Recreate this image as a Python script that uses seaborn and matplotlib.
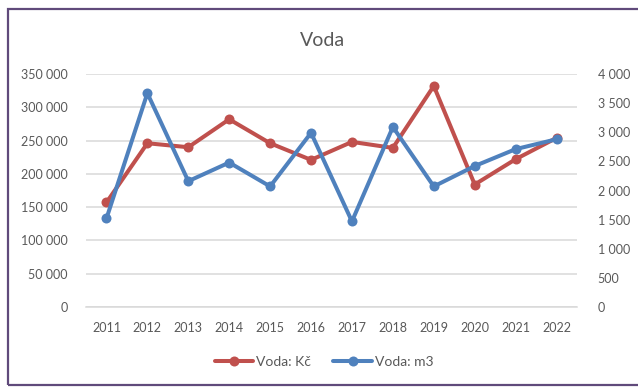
import matplotlib
matplotlib.use("Agg")
import matplotlib.pyplot as plt
import matplotlib.ticker as mticker
from matplotlib.patches import Rectangle
from matplotlib.lines import Line2D
import seaborn as sns
import pandas as pd

years = [2011, 2012, 2013, 2014, 2015, 2016, 2017, 2018, 2019, 2020, 2021, 2022]
cost_czk = [157000, 246000, 240000, 282000, 246000, 221000, 248000, 239000, 332000, 184000, 222000, 254000]
volume_m3 = [1520, 3670, 2160, 2480, 2070, 2990, 1470, 3090, 2070, 2420, 2710, 2880]
series_names = ["Voda: Kč", "Voda: m3"]
title = "Voda"

red = "#C0504D"
blue = "#4F81BD"
text_gray = "#595959"
grid_gray = "#D9D9D9"

sns.set_theme(style="white")
plt.rcParams["font.family"] = ["Lato", "DejaVu Sans"]

df = pd.DataFrame({"year": years, "czk": cost_czk, "m3": volume_m3})

fig = plt.figure(figsize=(6.38, 3.87), dpi=100)
ax = fig.add_axes([86 / 638, 1 - 307 / 387, (577 - 86) / 638, (307 - 74) / 387])
ax2 = ax.twinx()

lw = 2.9
ms = 7.2
sns.lineplot(data=df, x="year", y="czk", ax=ax, color=red, linewidth=lw,
             marker="o", markersize=ms, markeredgewidth=0, legend=False)
sns.lineplot(data=df, x="year", y="m3", ax=ax2, color=blue, linewidth=lw,
             marker="o", markersize=ms, markeredgewidth=0, legend=False)

def space_thousands(v, pos):
    return f"{int(round(v)):,}".replace(",", " ")

ax.set_xlim(years[0] - 0.5, years[-1] + 0.5)
ax.set_xticks(years)
ax.set_xticklabels([str(y) for y in years])
ax.set_ylim(0, 350000)
ax.yaxis.set_major_locator(mticker.MultipleLocator(50000))
ax.yaxis.set_major_formatter(mticker.FuncFormatter(space_thousands))
ax2.set_ylim(0, 4000)
ax2.yaxis.set_major_locator(mticker.MultipleLocator(500))
ax2.yaxis.set_major_formatter(mticker.FuncFormatter(space_thousands))

ax.grid(axis="y", color=grid_gray, linewidth=1.1)
ax.grid(axis="x", visible=False)
ax2.grid(False)
ax.set_axisbelow(True)
for a in (ax, ax2):
    a.set_xlabel("")
    a.set_ylabel("")
    for s in a.spines.values():
        s.set_visible(False)
    a.patch.set_alpha(0)
ax.spines["bottom"].set_visible(True)
ax.spines["bottom"].set_color(grid_gray)
ax.spines["bottom"].set_linewidth(1.1)

ax.tick_params(axis="x", length=0, pad=11, labelsize=9, labelcolor=text_gray)
ax.tick_params(axis="y", length=0, pad=13, labelsize=9, labelcolor=text_gray)
ax2.tick_params(axis="y", length=0, pad=15, labelsize=9, labelcolor=text_gray)

fig.text(323 / 638, 1 - 40 / 387, title, ha="center", va="center",
         fontsize=14, color=text_gray)

handles = [
    Line2D([], [], color=red, linewidth=lw, marker="o", markersize=ms, markeredgewidth=0),
    Line2D([], [], color=blue, linewidth=lw, marker="o", markersize=ms, markeredgewidth=0),
]
fig.legend(handles, series_names, loc="center", bbox_to_anchor=(324 / 638, 1 - 362 / 387),
           ncol=2, frameon=False, fontsize=10, labelcolor=text_gray,
           handlelength=2.8, handletextpad=0.2, columnspacing=1.6)

fig.patches.append(Rectangle((8 / 638, 1 - 385 / 387), 640 / 638, 376 / 387,
                             transform=fig.transFigure, fill=False,
                             edgecolor="#604A7B", linewidth=1.6))

fig.savefig("out.png", dpi=100, facecolor="white")
